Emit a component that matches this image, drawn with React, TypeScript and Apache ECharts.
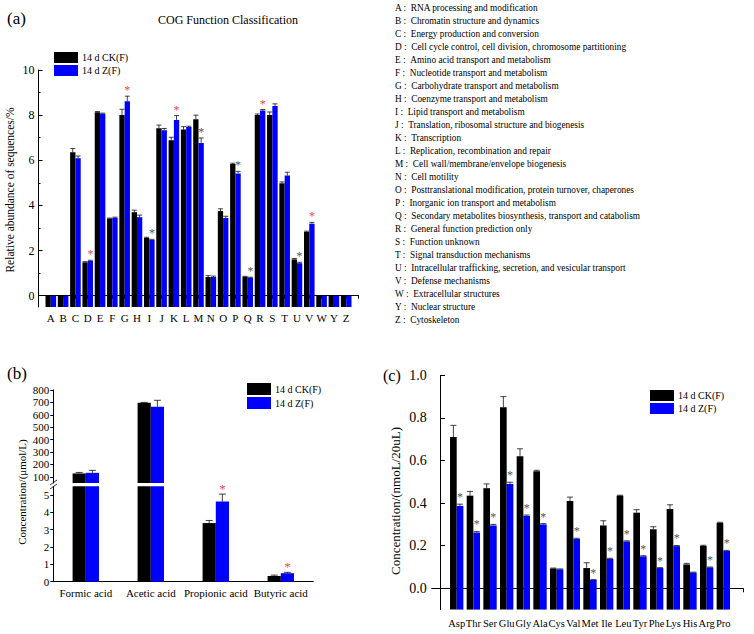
import React, { useEffect, useRef } from 'react';
import * as echarts from 'echarts';

const FONT = '"Liberation Serif", "Times New Roman", Times, serif';
const BLUE = '#0000ff';
const RED = '#e84a4a';
const GRAY = '#555555';
const SERIES_NAMES = ['14 d CK(F)', '14 d Z(F)'];

// ---------- Panel (a): COG function classification ----------
const cogLetters = ['A', 'B', 'C', 'D', 'E', 'F', 'G', 'H', 'I', 'J', 'K', 'L', 'M', 'N', 'O', 'P', 'Q', 'R', 'S', 'T', 'U', 'V', 'W', 'Y', 'Z'];
const cogNames = [
  'RNA processing and modification',
  'Chromatin structure and dynamics',
  'Energy production and conversion',
  'Cell cycle control, cell division, chromosome partitioning',
  'Amino acid transport and metabolism',
  'Nucleotide transport and metabolism',
  'Carbohydrate transport and metabolism',
  'Coenzyme transport and metabolism',
  'Lipid transport and metabolism',
  'Translation, ribosomal structure and biogenesis',
  'Transcription',
  'Replication, recombination and repair',
  'Cell wall/membrane/envelope biogenesis',
  'Cell motility',
  'Posttranslational modification, protein turnover, chaperones',
  'Inorganic ion transport and metabolism',
  'Secondary metabolites biosynthesis, transport and catabolism',
  'General function prediction only',
  'Function unknown',
  'Signal transduction mechanisms',
  'Intracellular trafficking, secretion, and vesicular transport',
  'Defense mechanisms',
  'Extracellular structures',
  'Nuclear structure',
  'Cytoskeleton',
];
const cogCK = [0, 0, 6.36, 1.48, 8.13, 3.42, 8.01, 3.70, 2.56, 7.42, 6.89, 7.36, 7.82, 0.83, 3.75, 5.84, 0.84, 8.01, 8.01, 4.98, 1.61, 2.83, 0, 0, 0];
const cogZ = [0, 0, 6.09, 1.54, 8.06, 3.45, 8.62, 3.48, 2.47, 7.33, 7.78, 7.47, 6.77, 0.83, 3.44, 5.42, 0.80, 8.21, 8.41, 5.33, 1.44, 3.19, 0, 0, 0];
const cogCKErr = [0, 0, 0.16, 0.03, 0.03, 0.02, 0.25, 0.09, 0.03, 0.14, 0.13, 0.13, 0.18, 0.06, 0.10, 0.03, 0.02, 0.04, 0.13, 0.06, 0.04, 0.03, 0, 0, 0];
const cogZErr = [0, 0, 0.10, 0.03, 0.03, 0.03, 0.22, 0.09, 0.03, 0.08, 0.20, 0.04, 0.22, 0.04, 0.08, 0.09, 0.02, 0.04, 0.09, 0.14, 0.04, 0.06, 0, 0, 0];
const cogStars = ['', '', '', 'r', '', '', 'r', '', 'g', '', 'r', '', 'g', '', '', 'g', 'g', 'r', '', '', 'g', 'r', '', '', ''];
const cogYLabels = [0, 2, 4, 6, 8, 10];
const cogYMinor = [1, 3, 5, 7, 9];

// ---------- Panel (b): short-chain fatty acids ----------
const acidNames = ['Formic acid', 'Acetic acid', 'Propionic acid', 'Butyric acid'];
const acidCK = [127, 697, 3.38, 0.33];
const acidZ = [132, 665, 4.62, 0.49];
const acidCKErr = [8, 3, 0.15, 0.05];
const acidZErr = [20, 52, 0.43, 0.05];
const acidStars = ['', '', 'r', 'r'];
const acidUpperTicks = [100, 200, 300, 400, 500, 600, 700, 800];
const acidLowerTicks = [0, 1, 2, 3, 4, 5];

// ---------- Panel (c): amino acids ----------
const aaNames = ['Asp', 'Thr', 'Ser', 'Glu', 'Gly', 'Ala', 'Cys', 'Val', 'Met', 'Ile', 'Leu', 'Tyr', 'Phe', 'Lys', 'His', 'Arg', 'Pro'];
const aaCK = [0.71, 0.435, 0.47, 0.85, 0.62, 0.55, 0.093, 0.41, 0.095, 0.295, 0.435, 0.355, 0.277, 0.372, 0.112, 0.199, 0.307];
const aaZ = [0.387, 0.262, 0.295, 0.49, 0.34, 0.30, 0.089, 0.232, 0.039, 0.138, 0.22, 0.15, 0.095, 0.198, 0.074, 0.098, 0.175];
const aaCKErr = [0.055, 0.02, 0.02, 0.05, 0.035, 0.004, 0.002, 0.018, 0.025, 0.022, 0.002, 0.014, 0.012, 0.02, 0.005, 0.003, 0.003];
const aaZErr = [0.008, 0.005, 0.005, 0.008, 0.004, 0.004, 0.002, 0.003, 0.002, 0.003, 0.003, 0.003, 0.002, 0.003, 0.002, 0.002, 0.003];
const aaStars = ['g', 'g', 'g', 'g', 'g', 'g', '', 'g', 'g', 'g', 'g', 'g', 'g', 'g', '', 'g', 'g'];
const aaYLabels = [0, 0.2, 0.4, 0.6, 0.8, 1.0];

function errorSeries(xAxisIndex: number, yAxisIndex: number, xs: number[], vals: number[], errs: number[], dx: number, halfCap: number) {
  return {
    type: 'custom',
    xAxisIndex,
    yAxisIndex,
    silent: true,
    z: 4,
    encode: { x: 0, y: 1 },
    data: xs.map((x, i) => [x, vals[i], errs[i]]),
    renderItem: (params: any, api: any) => {
      const x = api.value(0);
      const v = api.value(1);
      const e = api.value(2);
      if (!e) return null;
      const p0 = api.coord([x, v]);
      const p1 = api.coord([x, v + e]);
      const cs = params.coordSys;
      if (p0[1] < cs.y - 0.5 || p0[1] > cs.y + cs.height + 0.5) return null;
      const cx = p0[0] + dx;
      return {
        type: 'group',
        children: [
          { type: 'line', shape: { x1: cx, y1: p0[1], x2: cx, y2: p1[1] }, style: { stroke: '#111', lineWidth: 0.8 } },
          { type: 'line', shape: { x1: cx - halfCap, y1: p1[1], x2: cx + halfCap, y2: p1[1] }, style: { stroke: '#111', lineWidth: 0.8 } },
        ],
      };
    },
  };
}

function starSeries(xAxisIndex: number, yAxisIndex: number, xs: number[], vals: number[], errs: number[], marks: string[], dx: number, size: number, gap: number) {
  return {
    type: 'custom',
    xAxisIndex,
    yAxisIndex,
    silent: true,
    z: 6,
    encode: { x: 0, y: 1 },
    data: xs.map((x, i) => [x, vals[i], errs[i], marks[i] === 'r' ? 1 : marks[i] === 'g' ? 2 : 0]),
    renderItem: (params: any, api: any) => {
      const x = api.value(0);
      const v = api.value(1);
      const e = api.value(2) || 0;
      const m = api.value(3);
      if (!m) return null;
      const p0 = api.coord([x, v]);
      const cs = params.coordSys;
      if (p0[1] < cs.y - 0.5 || p0[1] > cs.y + cs.height + 0.5) return null;
      const p1 = api.coord([x, v + e]);
      return {
        type: 'text',
        x: p0[0] + dx,
        y: p1[1] - gap,
        style: {
          text: '*',
          fill: m === 1 ? RED : GRAY,
          font: `${size}px ${FONT}`,
          textAlign: 'center',
          align: 'center',
          textVerticalAlign: 'middle',
          verticalAlign: 'middle',
        },
      };
    },
  };
}

const axisLineStyle = { lineStyle: { color: '#000', width: 1 } };

function buildOption() {
  const cogX = cogLetters.map((_, i) => i + 1);
  const aaX = aaNames.map((_, i) => i + 1);
  const acidX = acidNames.map((_, i) => i);
  const cogW = 5.3;
  const acidW = 13.2;
  const aaW = 6.67;

  const legendCommon = {
    orient: 'vertical',
    icon: 'rect',
    itemWidth: 24,
    itemHeight: 11,
    itemGap: 2,
    padding: 0,
    selectedMode: false,
    data: SERIES_NAMES,
    textStyle: { fontFamily: FONT, fontSize: 10, color: '#000', padding: [0, 0, 0, -1] },
  };

  const graphic: any[] = [];
  graphic.push({ type: 'text', x: 7, y: 18, style: { text: '(a)', font: `17px ${FONT}`, fill: '#000', textVerticalAlign: 'middle', verticalAlign: 'middle' } });
  graphic.push({ type: 'text', x: 228, y: 20, style: { text: 'COG Function Classification', font: `12px ${FONT}`, fill: '#000', textAlign: 'center', align: 'center', textVerticalAlign: 'middle', verticalAlign: 'middle' } });
  graphic.push({ type: 'text', x: 7, y: 373, style: { text: '(b)', font: `17px ${FONT}`, fill: '#000', textVerticalAlign: 'middle', verticalAlign: 'middle' } });
  graphic.push({ type: 'text', x: 383, y: 375, style: { text: '(c)', font: `16px ${FONT}`, fill: '#000', textVerticalAlign: 'middle', verticalAlign: 'middle' } });
  cogLetters.forEach((l, i) => {
    graphic.push({
      type: 'text',
      x: 395,
      y: 7.5 + i * 13,
      style: { text: `${l} :\u00a0\u00a0${cogNames[i]}`, font: `9.3px ${FONT}`, fill: '#000', textVerticalAlign: 'middle', verticalAlign: 'middle' },
    });
  });
  // axis names
  graphic.push({ type: 'text', x: 10, y: 190, rotation: Math.PI / 2, style: { text: 'Relative abundance of sequences/%', font: `11.5px ${FONT}`, fill: '#000', textAlign: 'center', align: 'center', textVerticalAlign: 'middle', verticalAlign: 'middle' } });
  graphic.push({ type: 'text', x: 22, y: 492, rotation: Math.PI / 2, style: { text: 'Concentration/(μmol/L)', font: `11px ${FONT}`, fill: '#000', textAlign: 'center', align: 'center', textVerticalAlign: 'middle', verticalAlign: 'middle' } });
  graphic.push({ type: 'text', x: 395, y: 501, rotation: Math.PI / 2, style: { text: 'Concentration/(nmoL/20uL)', font: `13px ${FONT}`, fill: '#000', textAlign: 'center', align: 'center', textVerticalAlign: 'middle', verticalAlign: 'middle' } });
  // axis break marks (b)
  graphic.push({ type: 'line', shape: { x1: 50, y1: 485, x2: 57, y2: 480 }, style: { stroke: '#000', lineWidth: 0.8 } });
  graphic.push({ type: 'line', shape: { x1: 50, y1: 489, x2: 57, y2: 484 }, style: { stroke: '#000', lineWidth: 0.8 } });

  return {
    animation: false,
    backgroundColor: '#fff',
    textStyle: { fontFamily: FONT },
    legend: [
      { ...legendCommon, left: 54, top: 52 },
      { ...legendCommon, left: 247, top: 383, itemHeight: 12 },
      { ...legendCommon, left: 650, top: 390 },
    ],
    grid: [
      { left: 38.5, top: 70, width: 320, height: 237, outerBoundsMode: 'none', containLabel: false },
      { left: 53.3, top: 390, width: 260, height: 93, outerBoundsMode: 'none', containLabel: false },
      { left: 53.3, top: 486.3, width: 260, height: 95.4, outerBoundsMode: 'none', containLabel: false },
      { left: 431.7, top: 375.3, width: 311.6, height: 234.3, outerBoundsMode: 'none', containLabel: false },
    ],
    xAxis: [
      {
        gridIndex: 0, type: 'value', min: 0, max: 26, interval: 1,
        axisLine: axisLineStyle, splitLine: { show: false },
        axisTick: { show: true, length: 3, lineStyle: { color: '#000' } },
        axisLabel: { color: '#000', fontFamily: FONT, fontSize: 11, margin: 5, formatter: (v: number) => cogLetters[Math.round(v) - 1] ?? '' },
      },
      { gridIndex: 1, type: 'category', data: acidNames, show: false },
      {
        gridIndex: 2, type: 'category', data: acidNames,
        axisLine: axisLineStyle, axisTick: { show: false }, splitLine: { show: false },
        axisLabel: { color: '#000', fontFamily: FONT, fontSize: 11, margin: 6, interval: 0 },
      },
      {
        gridIndex: 3, type: 'value', min: -0.5, max: 18.2,
        axisLine: axisLineStyle, splitLine: { show: false },
        axisTick: { show: true, length: 4, lineStyle: { color: '#000' }, customValues: [0, 18.2] },
        axisLabel: { color: '#000', fontFamily: FONT, fontSize: 10.5, margin: 8, customValues: aaX, formatter: (v: number) => aaNames[Math.round(v) - 1] ?? '' },
      },
    ],
    yAxis: [
      {
        gridIndex: 0, type: 'value', min: -0.5, max: 10, startValue: -0.5,
        axisLine: { show: true, ...axisLineStyle }, splitLine: { show: false },
        axisTick: { show: true, inside: true, length: 4, lineStyle: { color: '#000' }, customValues: cogYLabels },
        axisLabel: { color: '#000', fontFamily: FONT, fontSize: 12, margin: 4, customValues: cogYLabels },
      },
      {
        gridIndex: 0, type: 'value', min: -0.5, max: 10, position: 'left', offset: 0,
        axisLine: { show: false }, splitLine: { show: false }, axisLabel: { show: false },
        axisTick: { show: true, inside: true, length: 2, lineStyle: { color: '#000' }, customValues: cogYMinor },
      },
      {
        gridIndex: 1, type: 'value', min: 50, max: 800,
        axisLine: { show: true, ...axisLineStyle }, splitLine: { show: false },
        axisTick: { show: true, length: 3, lineStyle: { color: '#000' }, customValues: acidUpperTicks },
        axisLabel: { color: '#000', fontFamily: FONT, fontSize: 11, margin: 4, customValues: acidUpperTicks },
      },
      {
        gridIndex: 2, type: 'value', min: 0, max: 5.5,
        axisLine: { show: true, ...axisLineStyle }, splitLine: { show: false },
        axisTick: { show: true, length: 3, lineStyle: { color: '#000' }, customValues: acidLowerTicks },
        axisLabel: { color: '#000', fontFamily: FONT, fontSize: 11, margin: 4, customValues: acidLowerTicks },
      },
      {
        gridIndex: 3, type: 'value', min: -0.1, max: 1.0, startValue: -0.1,
        axisLine: { show: true, ...axisLineStyle }, splitLine: { show: false },
        axisTick: { show: true, inside: true, length: 5, lineStyle: { color: '#000' }, customValues: aaYLabels },
        axisLabel: { color: '#000', fontFamily: FONT, fontSize: 14, margin: 5, customValues: aaYLabels, formatter: (v: number) => v.toFixed(1) },
      },
    ],
    series: [
      // (a)
      { name: SERIES_NAMES[0], type: 'bar', xAxisIndex: 0, yAxisIndex: 0, barWidth: cogW, barGap: '0%', startValue: -0.5, itemStyle: { color: '#000' }, data: cogX.map((x, i) => [x, cogCK[i]]) },
      { name: SERIES_NAMES[1], type: 'bar', xAxisIndex: 0, yAxisIndex: 0, barWidth: cogW, barGap: '0%', startValue: -0.5, itemStyle: { color: BLUE }, data: cogX.map((x, i) => [x, cogZ[i]]) },
      errorSeries(0, 0, cogX, cogCK, cogCKErr, -cogW / 2, 2.5),
      errorSeries(0, 0, cogX, cogZ, cogZErr, cogW / 2, 2.5),
      starSeries(0, 0, cogX, cogZ, cogZErr, cogStars, cogW / 2, 12, 6),
      // (b) upper
      { name: SERIES_NAMES[0], type: 'bar', xAxisIndex: 1, yAxisIndex: 2, barWidth: acidW, barGap: '0%', clip: true, itemStyle: { color: '#000' }, data: acidCK },
      { name: SERIES_NAMES[1], type: 'bar', xAxisIndex: 1, yAxisIndex: 2, barWidth: acidW, barGap: '0%', clip: true, itemStyle: { color: BLUE }, data: acidZ },
      errorSeries(1, 2, acidX, acidCK, acidCKErr, -acidW / 2, 3.5),
      errorSeries(1, 2, acidX, acidZ, acidZErr, acidW / 2, 3.5),
      // (b) lower
      { name: SERIES_NAMES[0], type: 'bar', xAxisIndex: 2, yAxisIndex: 3, barWidth: acidW, barGap: '0%', clip: true, itemStyle: { color: '#000' }, data: acidCK },
      { name: SERIES_NAMES[1], type: 'bar', xAxisIndex: 2, yAxisIndex: 3, barWidth: acidW, barGap: '0%', clip: true, itemStyle: { color: BLUE }, data: acidZ },
      errorSeries(2, 3, acidX, acidCK, acidCKErr, -acidW / 2, 3.5),
      errorSeries(2, 3, acidX, acidZ, acidZErr, acidW / 2, 3.5),
      starSeries(2, 3, acidX, acidZ, acidZErr, acidStars, acidW / 2, 13, 6),
      // (c)
      { name: SERIES_NAMES[0], type: 'bar', xAxisIndex: 3, yAxisIndex: 4, barWidth: aaW, barGap: '0%', startValue: -0.1, itemStyle: { color: '#000' }, data: aaX.map((x, i) => [x, aaCK[i]]) },
      { name: SERIES_NAMES[1], type: 'bar', xAxisIndex: 3, yAxisIndex: 4, barWidth: aaW, barGap: '0%', startValue: -0.1, itemStyle: { color: BLUE }, data: aaX.map((x, i) => [x, aaZ[i]]) },
      errorSeries(3, 4, aaX, aaCK, aaCKErr, -aaW / 2, 3),
      errorSeries(3, 4, aaX, aaZ, aaZErr, aaW / 2, 3),
      starSeries(3, 4, aaX, aaZ, aaZErr, aaStars, aaW / 2, 12, 7),
    ],
    graphic,
  };
}

export default function App() {
  const ref = useRef<HTMLDivElement>(null);
  useEffect(() => {
    if (!ref.current) return;
    const chart = echarts.init(ref.current, null, { renderer: 'svg' });
    chart.setOption(buildOption() as any);
    return () => chart.dispose();
  }, []);
  return <div ref={ref} style={{ position: 'fixed', left: 0, top: 0, width: 754, height: 634, background: '#fff' }} />;
}
